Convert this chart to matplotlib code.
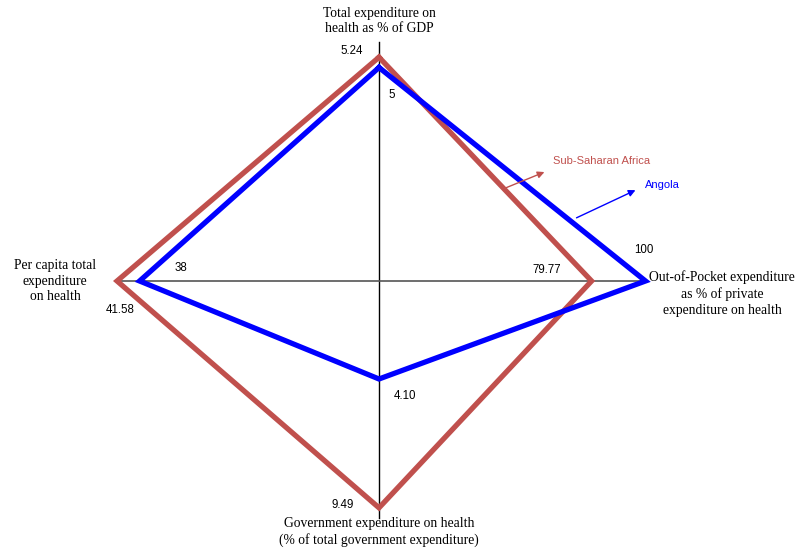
import matplotlib
matplotlib.use("Agg")
import matplotlib.pyplot as plt

# axis order: top, right, bottom, left
axis_labels = [
    "Total expenditure on\nhealth as % of GDP",
    "Out-of-Pocket expenditure\nas % of private\nexpenditure on health",
    "Government expenditure on health\n(% of total government expenditure)",
    "Per capita total\nexpenditure\non health",
]
ssa_values = [5.24, 79.77, 9.49, 41.58]
angola_values = [5, 100, 4.10, 38]
ssa_text = ["5.24", "79.77", "9.49", "41.58"]
angola_text = ["5", "100", "4.10", "38"]

# pixels per unit along each spoke, and spoke directions
scale = [42.7, 2.665, 23.9, 6.3]
dirs = [(0, -1), (1, 0), (0, 1), (-1, 0)]
cx, cy = 379, 281


def to_xy(values):
    xs = [cx + dx * s * v for (dx, dy), s, v in zip(dirs, scale, values)]
    ys = [cy + dy * s * v for (dx, dy), s, v in zip(dirs, scale, values)]
    return xs + xs[:1], ys + ys[:1]


fig = plt.figure(figsize=(7.99, 5.52), dpi=100)
ax = fig.add_axes([0, 0, 1, 1])
ax.set_xlim(0, 799)
ax.set_ylim(552, 0)
ax.axis("off")

# spokes
ax.plot([cx, cx], [42, 518], color="black", lw=1.0, zorder=1)
ax.plot([116, 645], [cy, cy], color="#555555", lw=1.2, zorder=1)

red = "#C0504D"
blue = "#0000FF"
xs, ys = to_xy(angola_values)
ax.plot(xs, ys, color=blue, lw=3.8, solid_joinstyle="miter", zorder=3)
xs, ys = to_xy(ssa_values)
ax.plot(xs, ys, color=red, lw=3.8, solid_joinstyle="miter", zorder=2)

serif = "Liberation Serif"
sans = "Liberation Sans"
lab_kw = dict(ha="center", va="center", fontsize=9.8, family=serif, linespacing=1.3)
ax.text(379, 21, axis_labels[0], **lab_kw)
ax.text(722, 294, axis_labels[1], **lab_kw)
ax.text(379, 532, axis_labels[2], **lab_kw)
ax.text(55, 281, axis_labels[3], **lab_kw)

# value labels
num_kw = dict(fontsize=8.3, family=sans, ha="center", va="center")
ax.text(352, 51, ssa_text[0], **num_kw)
ax.text(392, 95, angola_text[0], **num_kw)
ax.text(547, 270, ssa_text[1], **num_kw)
ax.text(644, 250, angola_text[1], **num_kw)
ax.text(343, 505, ssa_text[2], **num_kw)
ax.text(405, 396, angola_text[2], **num_kw)
ax.text(120, 310, ssa_text[3], **num_kw)
ax.text(181, 268, angola_text[3], **num_kw)

# legend arrows
ax.annotate("", xy=(547, 171), xytext=(503, 189),
            arrowprops=dict(arrowstyle="-|>", color=red, lw=1, mutation_scale=10))
ax.text(553, 161, "Sub-Saharan Africa", color=red, fontsize=8, family=sans,
        ha="left", va="center")
ax.annotate("", xy=(638, 189), xytext=(574, 219),
            arrowprops=dict(arrowstyle="-|>", color=blue, lw=1, mutation_scale=10))
ax.text(645, 185, "Angola", color=blue, fontsize=8, family=sans,
        ha="left", va="center")

fig.savefig("out.png", dpi=100)
